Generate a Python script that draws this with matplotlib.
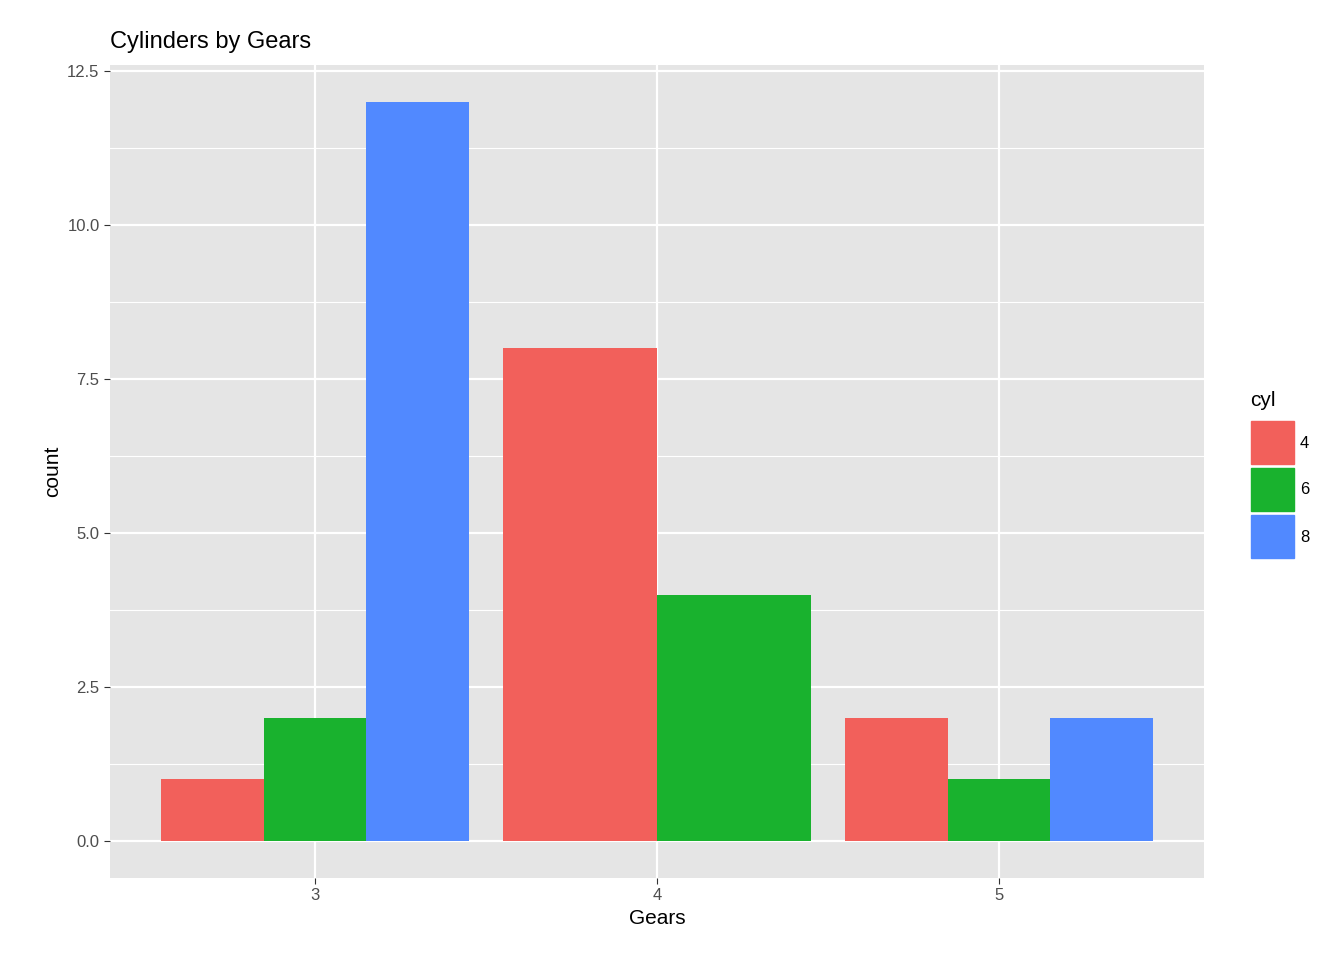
import numpy as np
import matplotlib.pyplot as plt
from matplotlib.patches import Rectangle

plt.rcParams['font.family'] = ['Liberation Sans', 'DejaVu Sans']

gears = [3, 4, 5]
cyl_levels = ['4', '6', '8']
# counts per gear, per cylinder (None = absent)
counts = {
    3: {'4': 1, '6': 2, '8': 12},
    4: {'4': 8, '6': 4},
    5: {'4': 2, '6': 1, '8': 2},
}
colors = {'4': '#F2605B', '6': '#19B22E', '8': '#5189FF'}

fig = plt.figure(figsize=(13.44, 9.6), dpi=100)
ax = fig.add_axes([110 / 1344, 82 / 960, 1094 / 1344, 813 / 960])
ax.set_facecolor('#E5E5E5')

width = 0.9
for g in gears:
    present = [c for c in cyl_levels if c in counts[g]]
    w = width / len(present)
    for i, c in enumerate(present):
        left = g - width / 2 + i * w
        ax.bar(left, counts[g][c], width=w, align='edge', color=colors[c], zorder=3)

ax.set_xlim(2.4, 5.6)
ax.set_ylim(-0.6, 12.6)
ax.set_xticks(gears)
ax.set_yticks([0, 2.5, 5, 7.5, 10, 12.5])
ax.set_yticklabels(['0.0', '2.5', '5.0', '7.5', '10.0', '12.5'])
ax.set_yticks([1.25, 3.75, 6.25, 8.75, 11.25], minor=True)
ax.grid(which='major', color='white', linewidth=1.6, zorder=1)
ax.grid(which='minor', axis='y', color='white', linewidth=0.8, zorder=1)
ax.tick_params(which='major', length=4, color='#333333', labelsize=12, labelcolor='#4D4D4D')
ax.tick_params(which='minor', length=0)
for s in ax.spines.values():
    s.set_visible(False)
ax.set_axisbelow(True)
ax.set_xlabel('Gears', fontsize=15)
ax.set_ylabel('count', fontsize=15)
ax.set_title('Cylinders by Gears', fontsize=17, loc='left', x=0, pad=12)

# legend
fig.text(1250 / 1344, 1 - 400 / 960, 'cyl', fontsize=15, va='center', ha='left')
for i, c in enumerate(cyl_levels):
    top = 421 + i * 47
    fig.patches.append(Rectangle((1251 / 1344, 1 - (top + 43) / 960), 43 / 1344, 43 / 960,
                                 transform=fig.transFigure, color=colors[c]))
    fig.text(1300 / 1344, 1 - (top + 22) / 960, c, fontsize=12, va='center', ha='left')

fig.savefig('out.png', dpi=100)
